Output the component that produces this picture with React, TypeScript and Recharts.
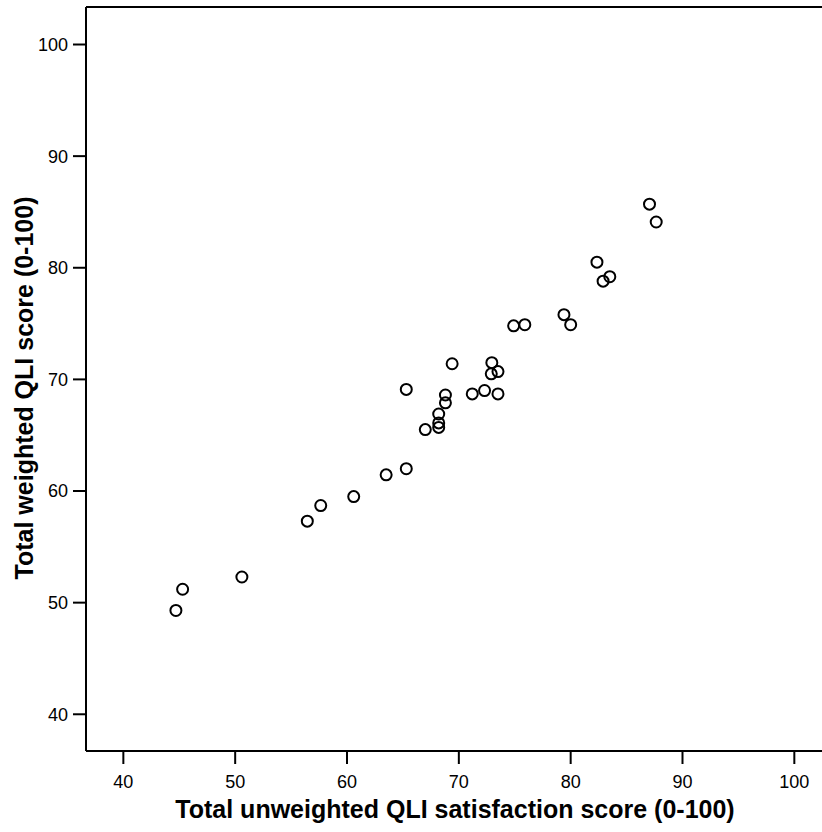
import React from 'react'
import { ScatterChart, Scatter, XAxis, YAxis, ReferenceLine } from 'recharts'

// unweighted satisfaction score (x) vs weighted score (y)
const unweighted = [
  44.7, 45.3, 50.6, 56.45, 57.65, 60.6, 63.5, 65.3, 65.3, 67.0, 68.2, 68.2, 68.2, 68.8, 68.8, 69.4,
  71.2, 72.3, 72.9, 72.95, 73.5, 73.5, 74.9, 75.9, 79.4, 80.0, 82.35, 82.9, 83.5, 87.05, 87.65,
]
const weighted = [
  49.3, 51.2, 52.3, 57.3, 58.7, 59.5, 61.45, 62.0, 69.1, 65.5, 65.7, 66.1, 66.9, 67.9, 68.6, 71.4,
  68.7, 69.0, 70.5, 71.5, 70.7, 68.7, 74.8, 74.9, 75.8, 74.9, 80.5, 78.8, 79.2, 85.7, 84.1,
]
const xTicks = [40, 50, 60, 70, 80, 90, 100]
const yTicks = [40, 50, 60, 70, 80, 90, 100]

const xTitle = 'Total unweighted QLI satisfaction score (0-100)'
const yTitle = 'Total weighted QLI score (0-100)'

const X_DOMAIN: [number, number] = [36.66, 103.19]
const Y_DOMAIN: [number, number] = [36.71, 103.36]

const points = unweighted.map((x, i) => ({ x, y: weighted[i] }))

const font = 'Liberation Sans, Arial, Helvetica, sans-serif'
const titleStyle = { fill: '#000', fontSize: 25, fontWeight: 'bold' as const, fontFamily: font }

const Ring = (props: any) => {
  const { cx, cy } = props
  return <circle cx={cx} cy={cy} r={5.5} fill="none" stroke="#000" strokeWidth={2} />
}

export default function App() {
  return (
    <div style={{ position: 'absolute', left: 0, top: 0, width: 822, height: 832, overflow: 'hidden', background: '#fff' }}>
      <ScatterChart width={840} height={832} margin={{ top: 7, right: 10, bottom: 0, left: 0 }}>
        <XAxis
          type="number"
          dataKey="x"
          domain={X_DOMAIN}
          ticks={xTicks}
          allowDataOverflow
          height={81}
          tickSize={13}
          tickMargin={11}
          axisLine={{ stroke: '#000', strokeWidth: 2 }}
          tickLine={{ stroke: '#000', strokeWidth: 2 }}
          tick={{ fill: '#000', fontSize: 18, fontFamily: font }}
          label={{
            content: () => (
              <text x={455} y={818} textAnchor="middle" style={titleStyle}>
                {xTitle}
              </text>
            ),
          }}
        />
        <YAxis
          type="number"
          dataKey="y"
          domain={Y_DOMAIN}
          ticks={yTicks}
          allowDataOverflow
          width={86}
          tickSize={13}
          tickMargin={5}
          axisLine={{ stroke: '#000', strokeWidth: 2 }}
          tickLine={{ stroke: '#000', strokeWidth: 2 }}
          tick={{ fill: '#000', fontSize: 18, fontFamily: font }}
          label={{
            content: () => (
              <text x={33} y={388} textAnchor="middle" transform="rotate(-90, 33, 388)" style={titleStyle}>
                {yTitle}
              </text>
            ),
          }}
        />
        <ReferenceLine y={Y_DOMAIN[1]} stroke="#000" strokeWidth={2} />
        <Scatter data={points} shape={Ring} isAnimationActive={false} />
      </ScatterChart>
    </div>
  )
}
